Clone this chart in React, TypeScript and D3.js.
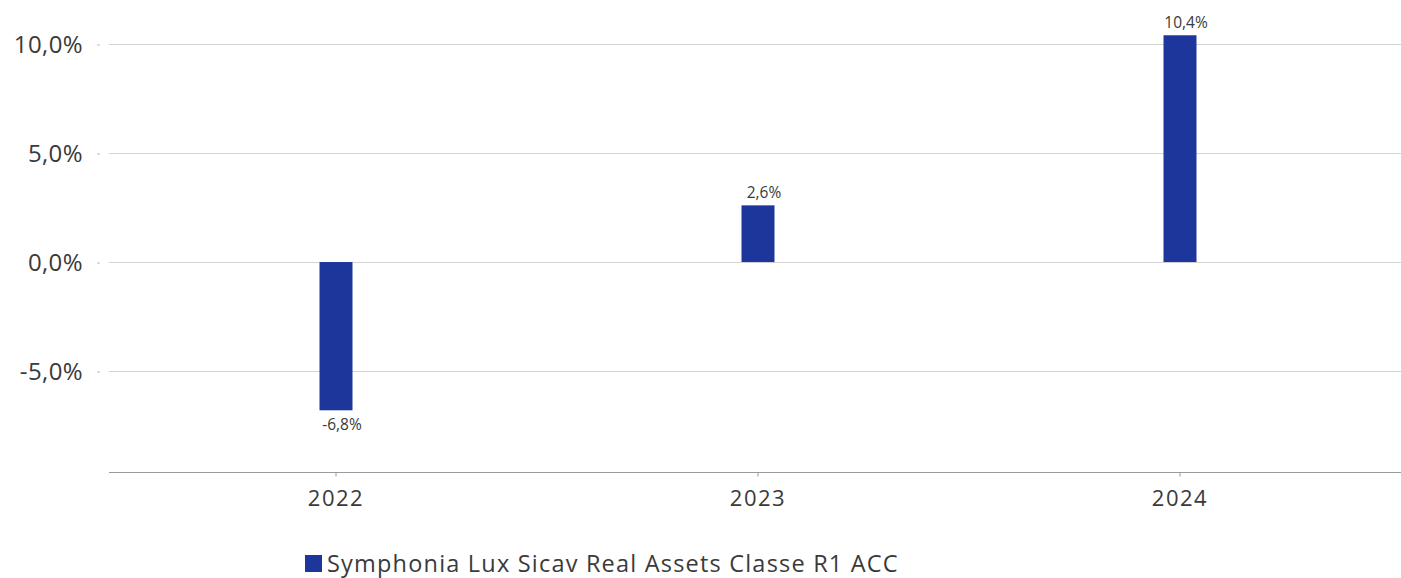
import React, { useEffect, useRef } from "react";
import * as d3 from "d3";

const years = ["2022", "2023", "2024"];
const returns = [-6.8, 2.6, 10.4];
const yTicks = [-5, 0, 5, 10];
const seriesName = "Symphonia Lux Sicav Real Assets Classe R1 ACC";

const fmt = (v: number) => v.toFixed(1).replace(".", ",") + "%";

export default function App() {
  const svgRef = useRef<SVGSVGElement | null>(null);

  useEffect(() => {
    if (!svgRef.current) return;
    const svg = d3.select(svgRef.current);
    svg.selectAll("*").remove();

    const font = "'Open Sans', sans-serif";
    const textColor = "#3a3a3a";
    const barColor = "#1c369b";

    const plotLeft = 109;
    const plotRight = 1401;
    const axisY = 472;

    const y = d3.scaleLinear().domain([-9.63, 12]).range([axisY, 0.4]);
    const x = d3.scaleBand().domain(years).range([125, 1391]);
    const barW = 33;

    // Grid lines
    svg
      .append("g")
      .selectAll("line")
      .data(yTicks)
      .enter()
      .append("line")
      .attr("x1", plotLeft)
      .attr("x2", plotRight)
      .attr("y1", (d) => Math.round(y(d)) + 0.5)
      .attr("y2", (d) => Math.round(y(d)) + 0.5)
      .attr("stroke", "#d4d4d4")
      .attr("stroke-width", 1);

    // Y axis
    const yAxis = svg
      .append("g")
      .attr("transform", "translate(100,0.5)")
      .call(
        d3
          .axisLeft(y)
          .tickValues(yTicks)
          .tickSize(3)
          .tickPadding(14)
          .tickFormat((d) => fmt(+d))
      );
    yAxis.select(".domain").remove();
    yAxis.selectAll(".tick line").attr("stroke", "#bdbdbd");
    yAxis
      .selectAll("text")
      .attr("font-family", font)
      .attr("font-size", "24px")
      .attr("letter-spacing", "0.4px")
      .attr("fill", textColor);

    // X axis line
    svg
      .append("line")
      .attr("x1", plotLeft)
      .attr("x2", plotRight)
      .attr("y1", axisY + 0.5)
      .attr("y2", axisY + 0.5)
      .attr("stroke", "#9a9a9a")
      .attr("stroke-width", 1.2);

    const xAxis = svg
      .append("g")
      .attr("transform", `translate(0,${axisY + 0.5})`)
      .call(d3.axisBottom(x).tickSize(4).tickPadding(14));
    xAxis.select(".domain").remove();
    xAxis.selectAll(".tick line").attr("stroke", "#9a9a9a");
    xAxis
      .selectAll("text")
      .attr("font-family", font)
      .attr("font-size", "22px")
      .attr("letter-spacing", "1.5px")
      .attr("fill", textColor);

    // Bars
    const data = years.map((yr, i) => ({ year: yr, value: returns[i] }));
    svg
      .append("g")
      .selectAll("rect")
      .data(data)
      .enter()
      .append("rect")
      .attr("x", (d) => x(d.year)! + x.bandwidth() / 2 - barW / 2)
      .attr("y", (d) => y(Math.max(0, d.value)))
      .attr("width", barW)
      .attr("height", (d) => Math.abs(y(d.value) - y(0)))
      .attr("fill", barColor);

    // Value labels
    svg
      .append("g")
      .selectAll("text")
      .data(data)
      .enter()
      .append("text")
      .attr("x", (d) => x(d.year)! + x.bandwidth() / 2 + 6)
      .attr("y", (d) => (d.value < 0 ? y(d.value) + 20 : y(d.value) - 7))
      .attr("text-anchor", "middle")
      .attr("font-family", font)
      .attr("font-size", "15.5px")
      .attr("fill", textColor)
      .text((d) => fmt(d.value));

    // Legend
    const legend = svg.append("g").attr("transform", "translate(305,555)");
    legend.append("rect").attr("width", 17).attr("height", 17).attr("fill", barColor);
    legend
      .append("text")
      .attr("x", 22)
      .attr("y", 17)
      .attr("font-family", font)
      .attr("font-size", "23.5px")
      .attr("letter-spacing", "1.2px")
      .attr("fill", textColor)
      .text(seriesName);
  }, []);

  return (
    <svg
      ref={svgRef}
      width={1401}
      height={578}
      style={{ position: "absolute", left: 0, top: 0, background: "#fff" }}
    />
  );
}
